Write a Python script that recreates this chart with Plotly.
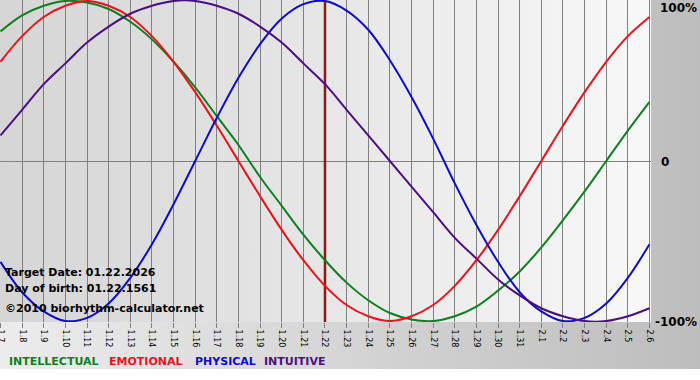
import plotly.graph_objects as go

# ---- data ----
dates = ["1.7", "1.8", "1.9", "1.10", "1.11", "1.12", "1.13", "1.14", "1.15", "1.16",
         "1.17", "1.18", "1.19", "1.20", "1.21", "1.22", "1.23", "1.24", "1.25", "1.26",
         "1.27", "1.28", "1.29", "1.30", "1.31", "2.1", "2.2", "2.3", "2.4", "2.5", "2.6"]
intellectual = [81, 91, 97, 100, 99, 95, 87, 76, 62, 46, 28, 10, -10, -28, -46, -62, -76, -87,
                -95, -99, -100, -97, -91, -81, -69, -54, -37, -19, 0, 19, 37]
emotional = [62, 78, 90, 97, 100, 97, 90, 78, 62, 43, 22, 0, -22, -43, -62, -78, -90, -97,
             -100, -97, -90, -78, -62, -43, -22, 0, 22, 43, 62, 78, 90]
physical = [-63, -82, -94, -100, -98, -89, -73, -52, -27, 0, 27, 52, 73, 89, 98, 100, 94, 82,
            63, 40, 14, -14, -40, -63, -82, -94, -100, -98, -89, -73, -52]
intuitive = [16, 32, 48, 61, 74, 84, 92, 97, 100, 100, 97, 92, 84, 74, 61, 48, 32, 16, 0, -16,
             -32, -48, -61, -74, -84, -92, -97, -100, -100, -97, -92]
target_day = "1.22"
y_ticks = [-100, 0, 100]
y_labels = ["-100%", "0", "100%"]
info_lines = ["Target Date: 01.22.2026", "Day of birth: 01.22.1561", "\u00a92010 biorhythm-calculator.net"]
series_names = ["INTELLECTUAL", "EMOTIONAL", "PHYSICAL", "INTUITIVE"]

# ---- styles ----
colors = {"INTELLECTUAL": "#0f7f1f", "EMOTIONAL": "#e8141c", "PHYSICAL": "#0c0ccc", "INTUITIVE": "#4b0f82"}
FONT = "DejaVu Sans"
W, H = 700, 380
PLOT_W, PLOT_H = 651, 322

x = list(range(len(dates)))
fig = go.Figure()

# background layer (pixel coordinate subplot x/y)
fig.add_trace(go.Scatter(x=[0, W, W, 0], y=[0, 0, 369, 369], xaxis="x", yaxis="y",
                         mode="lines", line=dict(width=0), fill="toself",
                         fillgradient=dict(type="horizontal",
                                           colorscale=[[0, "#ececec"], [1, "#bdbdbd"]]),
                         hoverinfo="skip", showlegend=False))
fig.add_trace(go.Scatter(x=[0, PLOT_W, PLOT_W, 0], y=[0, 0, PLOT_H, PLOT_H], xaxis="x", yaxis="y",
                         mode="lines", line=dict(width=0), fill="toself",
                         fillgradient=dict(type="horizontal",
                                           colorscale=[[0, "#d5d5d5"], [1, "#f8f8f8"]]),
                         hoverinfo="skip", showlegend=False))

# target day marker
ti = dates.index(target_day)
fig.add_trace(go.Scatter(x=[x[ti], x[ti]], y=[-100.6, 100.6], xaxis="x2", yaxis="y2",
                         mode="lines", line=dict(color="#8b1a1a", width=2.5),
                         hoverinfo="skip", showlegend=False))

data = {"INTELLECTUAL": intellectual, "EMOTIONAL": emotional,
        "PHYSICAL": physical, "INTUITIVE": intuitive}
for name in series_names:
    fig.add_trace(go.Scatter(x=x, y=data[name], xaxis="x2", yaxis="y2", mode="lines",
                             line=dict(color=colors[name], width=2, shape="spline", smoothing=1),
                             name=name, showlegend=False))

annotations = []
# info text
for t, yy in zip(info_lines, [272, 288, 308]):
    annotations.append(dict(x=3, y=yy, xref="x", yref="y", text="<b>%s</b>" % t, showarrow=False,
                            xanchor="left", yanchor="middle",
                            font=dict(family=FONT, size=11, color="black")))
# right labels
for lab, yy, xx in zip(y_labels, [322, 162, 8], [653, 659, 658]):
    annotations.append(dict(x=xx, y=yy, xref="x", yref="y", text="<b>%s</b>" % lab, showarrow=False,
                            xanchor="left", yanchor="middle",
                            font=dict(family=FONT, size=12, color="black")))
# legend
for name, xx in zip(series_names, [7, 107, 193, 262]):
    annotations.append(dict(x=xx, y=361, xref="x", yref="y", text="<b>%s</b>" % name, showarrow=False,
                            xanchor="left", yanchor="middle",
                            font=dict(family=FONT, size=11, color=colors[name])))

fig.update_layout(
    width=W, height=H,
    margin=dict(l=0, r=0, t=0, b=0, pad=0),
    paper_bgcolor="white", plot_bgcolor="rgba(0,0,0,0)",
    showlegend=False,
    xaxis=dict(domain=[0, 1], range=[0, W], visible=False, fixedrange=True),
    yaxis=dict(domain=[0, 1], range=[H, 0], visible=False, fixedrange=True),
    xaxis2=dict(domain=[0, PLOT_W / W], anchor="y2", range=[-0.023, 30.07],
                tickmode="array", tickvals=x, ticktext=dates, tickangle=90,
                showgrid=True, gridcolor="#808080", gridwidth=1, zeroline=False,
                ticks="outside", ticklen=5, tickcolor="#808080", showline=False,
                ticklabeloverflow="allow",
                tickfont=dict(family=FONT, size=8, color="black"), automargin=False),
    yaxis2=dict(domain=[(H - PLOT_H) / H, 1], anchor="x2", range=[-100.6, 100.6],
                tickmode="array", tickvals=y_ticks, showticklabels=False,
                showgrid=True, gridcolor="#808080", gridwidth=1, zeroline=False,
                ticks="", showline=False, automargin=False),
    annotations=annotations,
)

fig.write_html("out.html", config={"displayModeBar": False},
               post_script="document.body.style.margin='0';document.body.style.overflow='hidden';")
